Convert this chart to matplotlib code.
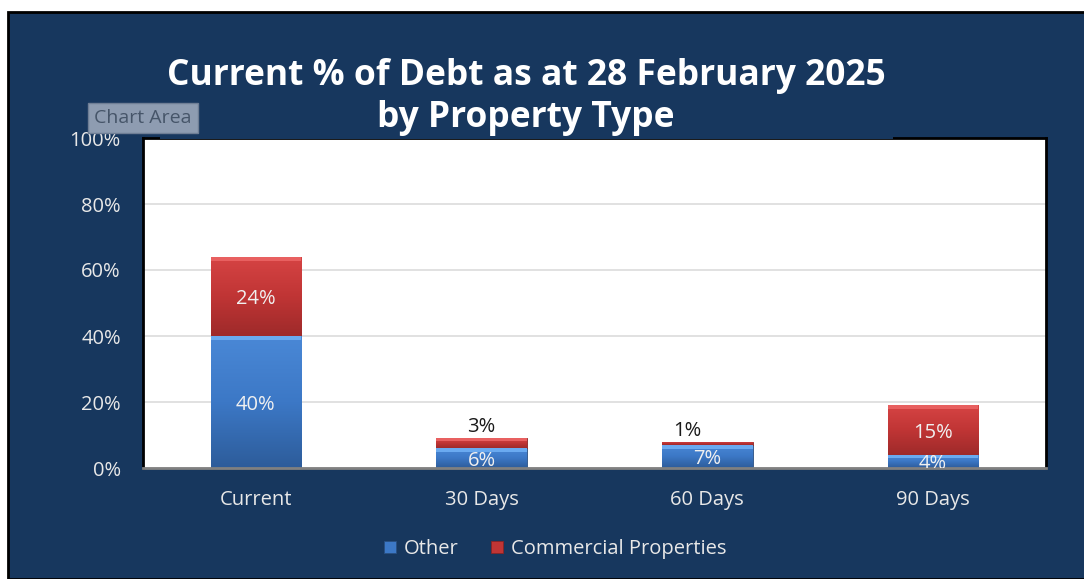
import numpy as np
import matplotlib.pyplot as plt
from matplotlib.patches import Rectangle
from matplotlib.colors import LinearSegmentedColormap

# Chart data
categories = ['Current', '30 Days', '60 Days', '90 Days']
other = [40, 6, 7, 4]
commercial = [24, 3, 1, 15]
other_labels = ['40%', '6%', '7%', '4%']
commercial_labels = ['24%', '3%', '1%', '15%']
yticks = [0, 20, 40, 60, 80, 100]
title_lines = ['Current % of Debt as at 28 February 2025', 'by Property Type']

navy = '#17375E'
font = 'Open Sans'

fig = plt.figure(figsize=(10.84, 5.79), dpi=100, facecolor='white')

# Chart area background with black border
bg = Rectangle((8 / 1084, 0), 1, 1 - 12 / 579, transform=fig.transFigure,
               facecolor=navy, edgecolor='black', linewidth=2, zorder=-10)
fig.patches.append(bg)

ax = fig.add_axes([143 / 1084, 1 - 468 / 579, (1046 - 143) / 1084, (468 - 138) / 579])
ax.set_zorder(1)
ax.set_facecolor('white')

x = np.arange(len(categories))
width = 0.4

blue_cmap = LinearSegmentedColormap.from_list('b', ['#2D5C9A', '#3C78C6', '#4A88D6'])
red_cmap = LinearSegmentedColormap.from_list('r', ['#9E2A2A', '#C03535', '#D64444'])
grad = np.linspace(0, 1, 256).reshape(-1, 1)


def gradient_bars(bars, cmap, top_col):
    for b in bars:
        x0, y0 = b.get_x(), b.get_y()
        w, h = b.get_width(), b.get_height()
        im = ax.imshow(grad, cmap=cmap, aspect='auto', origin='lower',
                       extent=(x0, x0 + w, y0, y0 + h), zorder=2)
        im.set_clip_path(b)
        # light bevel on top edge
        bh = min(1.2, h * 0.25)
        ax.add_patch(Rectangle((x0, y0 + h - bh), w, bh,
                               facecolor=top_col, edgecolor='none', zorder=2.5))


b1 = ax.bar(x, other, width, color='#3C78C6', edgecolor='#2A4F80', linewidth=0.6,
            zorder=2, label='Other')
b2 = ax.bar(x, commercial, width, bottom=other, color='#C03535', edgecolor='#8A2424',
            linewidth=0.6, zorder=2, label='Commercial Properties')
gradient_bars(b1, blue_cmap, '#6AAAF0')
gradient_bars(b2, red_cmap, '#E86060')

# data labels
for i in range(len(categories)):
    ax.text(x[i], other[i] / 2, other_labels[i], ha='center', va='center_baseline',
            color='#F0F0F0', fontsize=14.5, family=font, zorder=5, clip_on=True)
    top = other[i] + commercial[i]
    if commercial[i] >= 8:
        ax.text(x[i], other[i] + commercial[i] / 2, commercial_labels[i], ha='center',
                va='center_baseline', color='#F0F0F0', fontsize=14.5, family=font, zorder=5)
    else:
        dx = -0.09 if i == 2 else 0.0
        ax.text(x[i] + dx, top + 0.3, commercial_labels[i], ha='center', va='bottom',
                color='#1A1A1A', fontsize=14.5, family=font, zorder=5)

ax.set_xlim(-0.5, len(categories) - 0.5)
ax.set_ylim(0, 100)
ax.set_yticks(yticks)
ax.set_yticklabels([f'{v}%' for v in yticks], color='#E8E8E8', fontsize=14.5, family=font)
ax.set_xticks(x)
ax.set_xticklabels(categories, color='#E8E8E8', fontsize=14.5, family=font)
ax.tick_params(axis='y', length=0, pad=16)
ax.tick_params(axis='x', length=0, pad=16)
ax.grid(axis='y', color='#DCDCDC', linewidth=1.2, zorder=1)
ax.set_axisbelow(True)
for s in ['left', 'right', 'top']:
    ax.spines[s].set_color('black')
    ax.spines[s].set_linewidth(2)
ax.spines['bottom'].set_color('#808080')
ax.spines['bottom'].set_linewidth(2)

# title box covering top of the plot area
tb = Rectangle((160 / 1084, 1 - 139 / 579), (893 - 160) / 1084, 100 / 579,
               transform=fig.transFigure, facecolor=navy, edgecolor='none', zorder=3)
fig.patches.append(tb)
fig.text(526 / 1084, 1 - 72 / 579, title_lines[0], ha='center', va='center_baseline',
         color='white', fontsize=25.5, fontweight='bold', family=font, zorder=4)
fig.text(526 / 1084, 1 - 114 / 579, title_lines[1], ha='center', va='center_baseline',
         color='white', fontsize=25.5, fontweight='bold', family=font, zorder=4)

# "Chart Area" tooltip
fig.text(143 / 1084, 1 - 118 / 579, 'Chart Area', ha='center', va='center', color='#465569',
         fontsize=14, family=font, zorder=4,
         bbox=dict(boxstyle='square,pad=0.3', facecolor='#8E9CB1', edgecolor='#6F7E95'))

leg = fig.legend(handles=[b1, b2], loc='center', bbox_to_anchor=(555 / 1084, 1 - 549 / 579),
                 ncol=2, frameon=False, handlelength=0.6, handleheight=0.6,
                 handletextpad=0.4, columnspacing=1.6, prop={'family': font, 'size': 14.5})
for t in leg.get_texts():
    t.set_color('#E8E8E8')

fig.savefig('out.png', dpi=100, facecolor='white')
